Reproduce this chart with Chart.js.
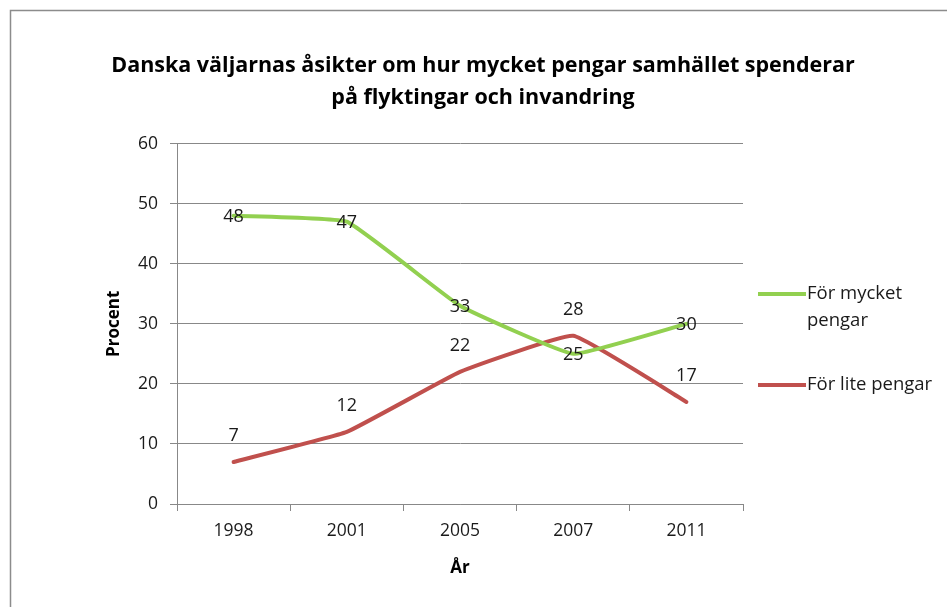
<!DOCTYPE html>
<html lang="sv">
  <head>
    <title>Danska väljarnas åsikter</title>
    <meta charset="UTF-8" />
    <script src="https://cdn.jsdelivr.net/npm/chart.js@4.4.1/dist/chart.umd.min.js"></script>
    <style>
      html, body { margin: 0; padding: 0; background: #fff; }
      canvas { display: block; }
    </style>
  </head>

  <body>
    <canvas id="chart" width="947" height="607"></canvas>

    <script>
      const years = ['1998', '2001', '2005', '2007', '2011']
      const tooMuch = [48, 47, 33, 25, 30]
      const tooLittle = [7, 12, 22, 28, 17]
      const seriesNames = ['För mycket pengar', 'För lite pengar']
      const titleLines = [
        'Danska väljarnas åsikter om hur mycket pengar samhället spenderar',
        'på flyktingar och invandring',
      ]

      const FONT = '"Open Sans", Lato, sans-serif'
      const GRID = '#888888'

      // frame round the whole chart, drawn first
      const frame = {
        id: 'frame',
        beforeDraw(chart) {
          const ctx = chart.ctx
          ctx.save()
          ctx.strokeStyle = '#8c8c8c'
          ctx.lineWidth = 1.5
          ctx.strokeRect(10.5, 10.5, chart.width + 20, chart.height + 20)
          ctx.restore()
        },
      }

      // value labels next to every point
      const valueLabels = {
        id: 'valueLabels',
        afterDatasetsDraw(chart, args, opts) {
          const ctx = chart.ctx
          ctx.save()
          ctx.font = opts.font
          ctx.fillStyle = '#1a1a1a'
          ctx.textAlign = 'center'
          ctx.textBaseline = 'middle'
          chart.data.datasets.forEach((ds, i) => {
            const meta = chart.getDatasetMeta(i)
            meta.data.forEach((pt, j) => {
              ctx.fillText(String(ds.data[j]), pt.x, pt.y + opts.offsets[i])
            })
          })
          ctx.restore()
        },
      }

      // legend at the right, Excel style (line sample + wrapped text)
      const sideLegend = {
        id: 'sideLegend',
        afterDraw(chart, args, opts) {
          const ctx = chart.ctx
          ctx.save()
          ctx.font = opts.font
          ctx.textBaseline = 'middle'
          chart.data.datasets.forEach((ds, i) => {
            const y = opts.rows[i]
            ctx.strokeStyle = ds.borderColor
            ctx.lineWidth = 4
            ctx.lineCap = 'butt'
            ctx.beginPath()
            ctx.moveTo(opts.x, y)
            ctx.lineTo(opts.x + 48, y)
            ctx.stroke()

            const words = ds.label.split(' ')
            const lines = []
            let cur = ''
            words.forEach((w) => {
              const test = cur ? cur + ' ' + w : w
              if (cur && ctx.measureText(test).width > opts.maxWidth) {
                lines.push(cur)
                cur = w
              } else cur = test
            })
            lines.push(cur)
            ctx.fillStyle = '#1a1a1a'
            lines.forEach((l, k) => {
              ctx.fillText(l, opts.x + 49, y + k * opts.lineGap)
            })
          })
          ctx.restore()
        },
      }

      new Chart(document.getElementById('chart'), {
        type: 'line',
        data: {
          labels: years,
          datasets: [
            {
              label: seriesNames[0],
              data: tooMuch,
              borderColor: '#92D050',
              backgroundColor: '#92D050',
            },
            {
              label: seriesNames[1],
              data: tooLittle,
              borderColor: '#C0504D',
              backgroundColor: '#C0504D',
            },
          ],
        },
        options: {
          responsive: false,
          animation: false,
          layout: { padding: { left: 19, right: 0, top: 0, bottom: 0 } },
          elements: {
            line: { borderWidth: 4, tension: 0.1, borderCapStyle: 'round' },
            point: { radius: 0 },
          },
          scales: {
            x: {
              offset: true,
              grid: {
                offset: true,
                drawOnChartArea: false,
                color: GRID,
                tickLength: 7,
              },
              border: { color: GRID },
              ticks: {
                color: '#1a1a1a',
                padding: 10,
                font: { family: FONT, size: 17.5 },
              },
              title: {
                display: true,
                text: 'År',
                color: '#000',
                font: { family: FONT, size: 17, weight: 'bold' },
                padding: { top: 0, bottom: 29 },
              },
              afterFit: (s) => { s.height = 103 },
            },
            y: {
              min: 0,
              max: 60,
              ticks: {
                stepSize: 10,
                color: '#1a1a1a',
                padding: 12,
                font: { family: FONT, size: 17.5 },
              },
              grid: { color: GRID, tickLength: 7 },
              border: { color: GRID },
              title: {
                display: true,
                text: 'Procent',
                color: '#000',
                font: { family: FONT, size: 17, weight: 'bold' },
                padding: { top: 85, bottom: 0 },
              },
              afterFit: (s) => { s.width = 158 },
            },
            right: {
              position: 'right',
              display: true,
              grid: { display: false },
              border: { display: false },
              ticks: { display: false },
              afterFit: (s) => { s.width = 204 },
            },
          },
          plugins: {
            legend: { display: false },
            tooltip: { enabled: false },
            title: {
              display: true,
              text: titleLines,
              color: '#000',
              font: { family: FONT, size: 21.5, weight: 'bold', lineHeight: 1.48 },
              padding: { top: 50, bottom: 30 },
            },
            valueLabels: {
              font: '18px ' + FONT,
              offsets: [1, -26],
            },
            sideLegend: {
              font: '18.5px ' + FONT,
              x: 758,
              rows: [294, 385],
              lineGap: 27,
              maxWidth: 136,
            },
          },
        },
        plugins: [frame, valueLabels, sideLegend],
      })
    </script>
  </body>
</html>
